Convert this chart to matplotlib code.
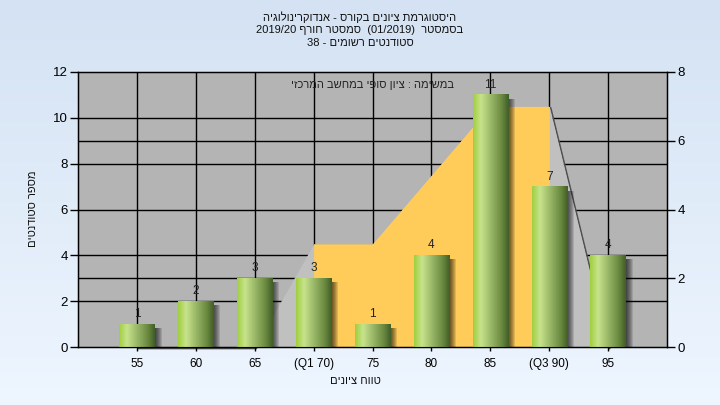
import re
import numpy as np
import matplotlib
matplotlib.use("Agg")
import matplotlib.pyplot as plt
from matplotlib.colors import LinearSegmentedColormap
from matplotlib.patches import Rectangle
import matplotlib.transforms as mtransforms

plt.rcParams['font.family'] = ['Liberation Sans', 'DejaVu Sans']

# data
categories = ['55', '60', '65', '(Q1 70)', '75', '80', '85', '(Q3 90)', '95']
counts = [1, 2, 3, 3, 1, 4, 11, 7, 4]
# smooth distribution curve, right axis (0-8)
dist = [0, 0, 0, 3, 3, 5, 7, 7, 0]
q1_idx, q3_idx = 3, 7

title_lines = ['היסטוגרמת ציונים בקורס - אנדוקרינולוגיה',
               'בסמסטר  (01/2019)  סמסטר חורף 2019/20',
               'סטודנטים רשומים - 38']
note = 'במשימה : ציון סופי במחשב המרכזי'
xlabel = 'טווח ציונים'
ylabel = 'מספר סטודנטים'


def rtl(s):
    # matplotlib has no bidi: reverse to visual order, keep LTR runs
    out = s[::-1]
    out = re.sub(r'[0-9A-Za-z/.]+', lambda m: m.group(0)[::-1], out)
    return out.translate(str.maketrans('()', ')('))


fig = plt.figure(figsize=(7.2, 4.05), dpi=100)

# background gradient
bg = fig.add_axes([0, 0, 1, 1], zorder=-5)
grad = np.linspace(0, 1, 256).reshape(-1, 1)
bg_cmap = LinearSegmentedColormap.from_list('bg', ['#d4e2f3', '#eef6ff'])
bg.imshow(grad, aspect='auto', cmap=bg_cmap, extent=(0, 1, 0, 1))
bg.axis('off')

ax = fig.add_axes([78/720, 58/405, 589/720, 275/405])
ax.set_facecolor('#b4b4b4')
x = np.arange(len(categories))
scale = 12 / 8  # right axis -> left axis units
px = 10 / 589
py = 12 / 275

# grid lines (left and right ticks)
for yv in [2, 3, 4, 6, 8, 9, 10]:
    ax.axhline(yv, color='black', lw=1, zorder=0.5)
for xv in x:
    ax.axvline(xv, color='black', lw=1, zorder=0.5)

dist_l = np.array(dist) * scale
# shadow line of the area edge
shadow_tr = mtransforms.offset_copy(ax.transData, fig=fig, x=1.5, y=-1.5, units='dots')
ax.plot(x, dist_l, color='#505050', lw=1.2, transform=shadow_tr, zorder=0.9, clip_on=False)
ax.fill_between(x, 0, dist_l, color='#c0c0c0', lw=0, zorder=1)
xs = x[q1_idx:q3_idx + 1]
ax.fill_between(xs, 0, dist_l[q1_idx:q3_idx + 1], color='#ffcc5a', lw=0, zorder=1.2)

# bars with cylinder gradient
w = 0.6
bar_cmap = LinearSegmentedColormap.from_list(
    'bar', [(0.0, '#a0cf40'), (0.22, '#c8e38c'), (0.5, '#9ab868'),
            (0.8, '#6a8a40'), (1.0, '#425e28')])
hgrad = np.linspace(0, 1, 100).reshape(1, -1)
for xi, h in zip(x, counts):
    for k in range(1, 8):
        ax.add_patch(Rectangle((xi - w/2 + k*px, 0), w, h - 4*py,
                               facecolor='black', alpha=0.12, lw=0, zorder=2))
    ax.imshow(hgrad, extent=(xi - w/2, xi + w/2, 0, h), aspect='auto',
              cmap=bar_cmap, zorder=3, interpolation='bilinear')
    ax.annotate(str(h), (xi, h), xytext=(0, 5), textcoords='offset points',
                ha='center', va='baseline', fontsize=8.5, color='#222222', zorder=4)

ax.set_xlim(-1, 9)
ax.set_ylim(0, 12)
ax.set_xticks(x)
ax.set_xticklabels(categories)
ax.set_yticks(range(0, 13, 2))
ax.tick_params(axis='y', direction='out', length=6, width=1, pad=1.5, labelsize=9.5)
ax.tick_params(axis='x', direction='out', length=3, width=1, pad=5, labelsize=8.5)
for sp in ax.spines.values():
    sp.set_color('black')
    sp.set_linewidth(1)

ax2 = ax.twinx()
ax2.set_ylim(0, 8)
ax2.set_yticks(range(0, 9, 2))
ax2.tick_params(axis='y', direction='out', length=6, width=1, pad=1.5, labelsize=9.5)

ax.text(0.5, 0.953, rtl(note), transform=ax.transAxes, ha='center', va='center',
        fontsize=8, color='#222222', zorder=5)

for i, line in enumerate(title_lines):
    fig.text(0.5, 1 - (17 + 13*i)/405, rtl(line), ha='center', va='center',
             fontsize=8, color='#111111')
fig.text(355/720, 1 - 381/405, rtl(xlabel), ha='center', va='center', fontsize=8,
         color='#111111')
fig.text(33/720, 1 - 209/405, rtl(ylabel), ha='center', va='center', fontsize=8,
         rotation=90, color='#111111')

fig.savefig('out.png', dpi=100)
